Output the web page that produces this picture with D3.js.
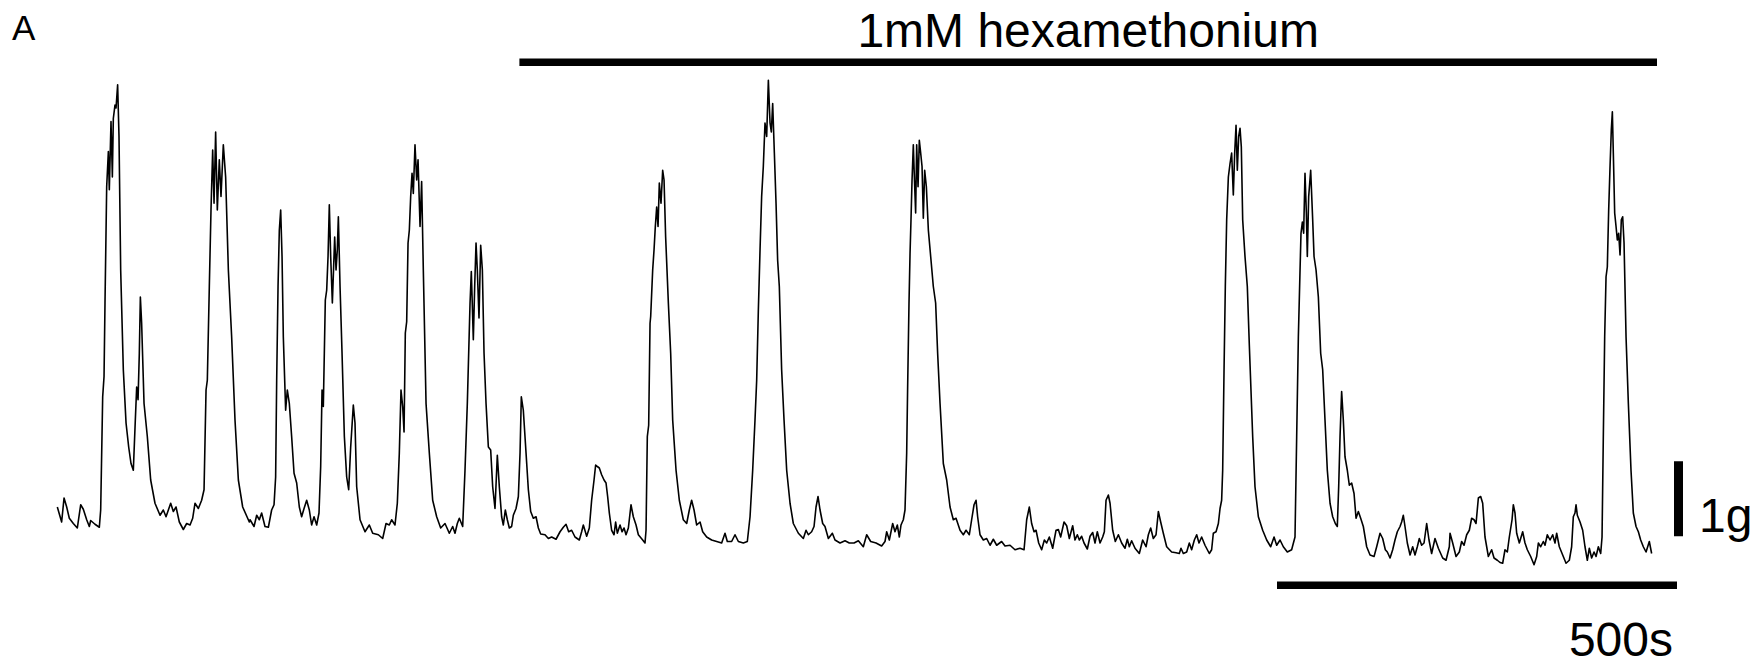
<!DOCTYPE html>
<html>
<head>
<meta charset="utf-8">
<script src="https://cdn.jsdelivr.net/npm/d3@7"></script>
<style>
  body { margin: 0; background: #fff; }
  text { font-family: "Liberation Sans", Arial, sans-serif; fill: #000; }
</style>
</head>
<body>
<script>
// isometric tension trace, pairs of [time (s), force (g)]
// control period, before the drug goes on
const controlTrace = [
  [0.4,0.44],[5.8,0.24],[8.8,0.56],[12.1,0.44],[15.4,0.29],[20.4,0.22],[25.4,0.16],[29.6,0.47],[32.9,0.41],[37.1,0.27],
  [40.4,0.18],[42.1,0.26],[47.5,0.21],[52.9,0.17],[54.6,0.40],[57.1,1.91],[58.8,2.18],[60.0,3.16],[62.1,4.71],[64.2,5.18],
  [65.4,4.67],[67.5,5.58],[69.2,4.84],[70.4,5.62],[72.5,5.80],[73.8,5.76],[75.8,6.07],[77.5,5.38],[79.6,3.60],[82.9,2.27],
  [86.3,1.56],[89.6,1.24],[92.5,1.02],[95.4,0.93],[97.9,1.60],[99.6,2.04],[101.3,1.87],[102.9,2.49],[104.2,3.24],[105.8,2.89],
  [108.8,1.82],[112.9,1.38],[117.1,0.80],[122.5,0.49],[128.8,0.33],[132.9,0.40],[136.3,0.31],[142.1,0.49],[145.4,0.38],[148.8,0.44],
  [152.9,0.24],[157.9,0.14],[162.1,0.22],[166.3,0.20],[169.6,0.29],[172.5,0.49],[176.7,0.42],[180.8,0.53],[183.8,0.67],[186.3,2.00],
  [187.9,2.13],[190.4,3.38],[192.5,4.40],[194.6,5.20],[196.3,4.49],[198.3,5.44],[200.4,4.40],[202.9,5.07],[205.0,4.58],[207.9,5.27],
  [210.8,4.84],[214.2,3.60],[218.3,2.71],[222.5,1.60],[226.7,0.80],[232.1,0.44],[240.4,0.24],
  [241.3,0.27],[246.3,0.18],[249.6,0.33],[252.9,0.27],[255.8,0.36],[260.0,0.18],[264.2,0.17],[268.3,0.40],[271.3,0.47],[273.3,0.84],
  [274.6,2.13],[276.3,3.38],[277.9,4.13],[279.6,4.40],[281.3,3.78],[282.9,2.71],[285.8,1.73],[287.9,2.00],[290.4,1.82],[293.3,1.38],
  [296.3,0.89],[299.6,0.76],[302.9,0.44],[305.8,0.31],[308.8,0.42],[312.1,0.53],[315.4,0.40],[318.3,0.20],[321.3,0.31],[324.6,0.20],
  [327.5,0.36],[329.6,0.98],[331.3,2.00],[332.9,1.78],[335.4,3.20],[337.1,3.33],[338.8,3.78],[340.4,4.47],[342.1,3.78],[344.2,3.16],
  [347.1,4.04],[348.8,3.60],[350.4,3.87],[351.7,4.31],[353.8,3.38],[356.3,2.49],[359.2,1.38],[362.1,0.84],[364.6,0.67],[367.1,1.24],
  [370.4,1.80],[372.5,1.56],[374.6,0.71],[378.8,0.27],[385.0,0.11],[390.4,0.20],[394.6,0.09],[401.7,0.07],[407.1,0.02],[411.3,0.22],
  [415.4,0.20],[418.3,0.27],[422.5,0.20],[425.4,0.49],[427.9,1.16],[430.0,2.00],[432.1,1.78],[433.8,1.44],[435.4,2.76],[437.1,2.91],
  [438.8,3.96],[440.4,4.13],[442.1,4.58],[443.8,4.89],[445.4,4.62],[447.5,5.27],[449.6,4.80],[451.3,5.07],[453.8,4.18],[455.8,4.78],
  [457.9,3.60],[461.3,1.82],[465.4,1.16],[469.6,0.53],[474.6,0.31],[479.6,0.16],[485.0,0.22],[490.4,0.09],
  [494.6,0.18],[497.5,0.09],[500.4,0.22],[502.9,0.29],[507.1,0.18],[510.0,0.93],[512.9,1.82],[514.6,2.49],[516.3,3.16],[517.9,3.58],
  [520.4,2.67],[522.1,3.38],[523.8,3.96],[525.4,3.60],[527.5,2.96],[529.6,3.93],[531.7,3.60],[533.8,2.49],[536.3,1.82],[539.2,1.24],
  [542.1,1.20],[544.6,0.71],[547.5,0.42],[550.4,1.13],[552.9,0.71],[555.8,0.31],[557.9,0.20],[560.4,0.40],[562.9,0.27],[565.4,0.16],
  [568.3,0.18],[570.4,0.33],[573.8,0.42],[576.7,0.58]
];

// in 1mM hexamethonium
const hexTrace = [
  [578.8,1.16],[580.4,1.91],[582.9,1.73],[586.3,1.16],[589.2,0.67],[592.1,0.38],[595.4,0.29],[598.8,0.31],[601.7,0.16],[604.6,0.08],
  [610.0,0.07],[614.2,0.02],[618.3,0.04],[623.8,0.01],[628.8,0.11],[632.9,0.17],[636.3,0.21],[639.6,0.11],[643.3,0.13],[647.5,0.04],
  [652.9,0.00],[655.8,0.11],[657.9,0.20],[662.1,0.05],[665.4,0.16],[668.3,0.53],[671.3,0.80],[673.3,1.00],[675.4,0.98],[677.9,0.96],
  [680.8,0.87],[683.8,0.80],[686.3,0.76],[688.3,0.58],[690.4,0.36],[693.3,0.13],[696.3,0.07],[698.3,0.24],[700.4,0.09],[703.8,0.20],
  [706.3,0.11],[708.8,0.16],[711.3,0.07],[714.2,0.16],[717.5,0.47],[720.4,0.31],[723.8,0.20],[726.7,0.07],[732.1,0.00],[735.0,-0.04],
  [736.3,0.13],[737.9,1.38],[739.6,1.53],[741.3,2.89],
  [742.1,2.98],[744.6,3.60],[746.3,3.87],[747.9,4.18],[749.6,4.44],[751.3,4.18],[752.9,4.76],[755.0,4.49],[757.1,4.93],[758.8,4.80],
  [760.8,4.04],[764.2,3.16],[767.1,2.49],[769.6,1.60],[773.8,0.93],[777.9,0.53],[782.9,0.27],[787.1,0.22],[790.4,0.40],[793.3,0.53],
  [796.3,0.40],[799.6,0.20],[803.8,0.24],[807.1,0.11],[812.1,0.04],[818.3,0.00],[824.6,-0.02],[830.8,-0.04],[835.0,0.09],[837.9,-0.02],
  [843.3,-0.02],[847.5,0.07],[851.7,-0.02],[857.9,-0.04],[862.9,-0.02],[866.3,0.31],[869.6,0.93],[872.5,1.60],[874.6,2.13],[876.7,3.07],
  [878.8,3.87],[880.8,4.58],[882.9,4.98],[885.0,5.56],[887.1,5.38],[889.2,6.13],[891.3,5.56],[892.9,5.44],[894.6,5.82],[896.7,5.16],
  [898.8,4.49],[900.8,3.73],[902.9,3.38],[905.8,2.27],[908.8,1.60],[912.1,0.93],[916.3,0.49],[920.4,0.22],[926.7,0.09],[932.9,0.02],
  [936.3,0.13],[939.2,0.07],[943.3,0.11],[946.3,0.18],[948.8,0.44],[951.3,0.58],[953.8,0.40],[957.1,0.22],[960.0,0.18],[964.2,0.02],
  [969.2,0.09],[972.5,0.00],[978.8,-0.04],[985.0,-0.01],[990.4,-0.04],
  [996.3,-0.04],[1001.7,-0.01],[1007.9,-0.09],[1012.1,0.07],[1017.1,-0.02],[1023.8,-0.04],[1030.8,-0.08],[1035.0,-0.02],[1037.1,0.11],[1040.4,0.00],
  [1044.6,0.22],[1047.5,0.11],[1050.4,0.20],[1052.9,0.04],[1055.0,0.20],[1057.9,0.27],[1060.0,0.40],[1062.1,1.16],[1063.3,2.04],[1065.0,3.16],
  [1066.3,3.82],[1067.5,4.27],[1068.8,4.80],[1070.4,5.27],[1071.7,4.84],[1073.3,4.36],[1074.6,5.27],[1076.3,4.71],[1077.9,5.33],[1079.6,5.16],
  [1081.3,4.98],[1082.9,4.29],[1084.6,4.93],[1086.7,4.71],[1089.2,4.13],[1092.1,3.78],[1095.4,3.38],[1098.3,3.16],[1100.8,2.49],[1103.8,1.82],
  [1107.9,1.02],[1112.1,0.80],[1116.3,0.44],[1120.4,0.27],[1123.8,0.29],[1128.8,0.13],[1132.9,0.07],[1136.3,0.13],[1140.4,0.07],[1143.3,0.27],
  [1146.3,0.47],[1148.8,0.53],[1150.8,0.31],[1153.8,0.07],[1157.9,0.00],[1162.1,0.02],[1166.3,-0.07],[1170.4,0.01],[1174.6,-0.07],[1180.8,-0.02],
  [1185.0,-0.08],[1191.3,-0.07],[1197.5,-0.13],[1203.8,-0.11],[1208.8,-0.13],[1212.1,0.27],[1215.4,0.44],[1218.3,0.22],[1221.3,0.11],[1223.8,0.13],
  [1227.1,-0.04],[1230.8,-0.13],[1234.2,0.00],[1237.1,-0.04],[1240.4,0.04],
  [1244.6,-0.11],[1248.8,0.13],[1251.7,0.14],[1254.6,0.04],[1258.8,0.24],[1262.1,0.19],[1265.4,0.02],[1269.6,0.19],[1272.5,0.00],[1275.4,0.07],
  [1277.9,0.00],[1280.8,0.05],[1283.8,-0.04],[1287.9,-0.12],[1291.3,0.05],[1294.6,0.10],[1297.5,-0.04],[1300.4,0.11],[1303.8,-0.04],[1307.1,0.04],
  [1309.2,0.11],[1311.3,0.53],[1314.2,0.60],[1316.3,0.49],[1319.6,0.13],[1322.9,-0.02],[1326.7,0.07],[1330.8,-0.04],[1335.0,-0.11],[1337.9,0.01],
  [1340.4,-0.09],[1343.3,-0.01],[1347.5,-0.11],[1352.9,-0.18],[1357.1,0.00],[1361.3,-0.09],[1364.2,0.07],[1367.1,0.16],[1370.4,0.02],[1373.8,0.07],
  [1376.7,0.38],[1379.6,0.24],[1382.9,0.09],[1387.1,-0.09],[1393.3,-0.16],[1398.8,-0.17],[1402.9,-0.18],[1405.0,-0.11],[1407.9,-0.18],[1412.1,-0.16],
  [1415.4,-0.04],[1418.3,-0.13],[1421.7,0.00],[1424.6,0.07],[1427.5,-0.04],[1430.8,0.04],[1435.0,-0.07],[1440.4,-0.18],[1443.3,-0.13],[1445.4,0.09],
  [1448.8,0.11],[1451.7,0.22],[1453.8,0.42],[1455.8,0.53],[1457.1,0.93],[1458.8,2.27],[1460.4,3.38],[1462.1,4.27],[1464.2,4.84],[1466.3,5.02],
  [1468.3,5.16],[1470.4,4.60],[1472.1,5.16],[1473.8,5.53],[1475.4,4.93],[1477.1,5.38],[1478.8,5.49],[1480.4,5.24],[1482.1,4.27],[1485.0,3.78],
  [1487.9,3.38],[1490.4,2.60],
  [1494.6,1.38],[1497.5,0.71],[1501.7,0.31],[1507.1,0.13],[1512.1,0.00],[1517.1,-0.09],[1521.3,0.04],[1524.6,-0.07],[1528.8,0.00],[1532.9,-0.09],
  [1537.9,-0.16],[1543.3,-0.13],[1547.5,0.04],[1549.6,1.38],[1551.7,2.71],[1553.8,3.60],[1555.0,4.09],[1556.7,4.24],[1558.3,4.09],[1560.0,4.89],
  [1561.7,4.36],[1562.9,3.78],[1564.6,4.58],[1567.1,4.93],[1569.6,4.27],[1571.3,3.78],[1573.8,3.60],[1576.7,3.24],[1579.6,2.49],[1582.1,2.27],
  [1585.0,1.60],[1587.9,0.93],[1591.3,0.49],[1594.6,0.31],[1597.9,0.22],[1600.4,0.18],[1602.1,0.71],[1603.8,1.38],[1605.8,1.98],[1607.9,1.60],
  [1610.0,1.11],[1612.9,0.93],[1615.4,0.73],[1618.3,0.76],[1621.3,0.62],[1623.8,0.29],[1626.7,0.38],[1629.6,0.29],[1632.9,0.18],[1637.1,-0.09],
  [1641.3,-0.20],[1646.3,-0.22],[1649.6,-0.09],[1653.8,0.09],[1657.1,0.02],[1660.4,-0.13],[1662.9,-0.16],[1666.3,-0.24],[1669.6,-0.13],[1672.5,0.00],
  [1675.4,0.11],[1678.8,0.18],[1680.8,0.24],[1682.9,0.33],[1685.0,0.18],[1687.9,-0.04],[1691.3,-0.20],[1694.6,-0.09],[1697.5,-0.20],[1700.4,-0.09],
  [1702.9,0.02],[1705.8,-0.07],[1708.8,-0.04],[1712.1,0.22],[1715.0,0.00],[1718.3,-0.18],[1722.5,0.02],[1726.7,-0.11],[1732.1,-0.24],[1736.3,-0.27],
  [1740.4,-0.09],
  [1741.3,0.09],[1744.6,-0.04],[1748.8,-0.22],[1752.9,-0.16],[1755.8,-0.02],[1758.8,-0.07],[1762.1,0.07],[1765.4,0.13],[1768.3,0.29],[1771.3,0.27],
  [1773.8,0.22],[1776.7,0.56],[1779.6,0.58],[1782.1,0.49],[1785.0,0.04],[1789.2,-0.22],[1793.3,-0.13],[1796.3,-0.24],[1800.4,-0.27],[1803.8,-0.30],
  [1807.1,-0.31],[1810.0,-0.13],[1812.9,-0.16],[1815.4,0.04],[1818.8,0.27],[1820.4,0.47],[1822.5,0.36],[1824.6,0.09],[1827.9,-0.04],[1832.1,0.11],
  [1835.0,-0.04],[1837.9,-0.13],[1842.1,-0.22],[1846.3,-0.33],[1849.6,-0.22],[1851.7,-0.04],[1854.6,-0.09],[1857.9,-0.02],[1860.0,-0.07],[1862.9,0.07],
  [1866.3,0.00],[1869.6,0.07],[1872.5,-0.04],[1874.6,0.09],[1877.9,-0.09],[1882.1,-0.20],[1886.3,-0.31],[1890.4,-0.27],[1893.3,-0.09],[1895.4,0.31],
  [1897.5,0.36],[1898.8,0.47],[1900.4,0.33],[1903.8,0.24],[1907.1,0.13],[1910.0,-0.09],[1912.9,-0.27],[1915.4,-0.11],[1918.3,-0.24],[1921.3,-0.16],
  [1923.8,-0.22],[1926.7,-0.09],[1929.6,-0.18],[1931.3,0.04],[1932.9,1.38],[1934.6,2.71],[1936.3,3.51],[1937.9,3.64],[1939.6,4.40],[1941.3,4.98],
  [1942.9,5.47],[1944.2,5.71],[1945.4,5.16],[1947.1,4.36],[1948.8,4.18],[1950.4,4.00],[1952.1,4.09],[1953.8,3.80],[1955.4,4.27],[1957.1,4.31],
  [1958.8,3.96],[1961.3,2.71],[1964.2,1.82],[1967.5,0.93],[1970.4,0.36],[1973.8,0.18],[1976.7,0.11],[1979.6,0.00],[1982.9,-0.09],[1986.3,-0.16],
  [1990.4,-0.02],[1993.3,-0.18]
];

const panelLabel = "A";
const drugLabel = "1mM hexamethonium";
const drugPeriod = [578, 2000];   // s
const timeBar = [1525, 2025];     // 500 s
const timeBarLabel = "500s";
const forceBar = [0.05, 1.05];    // 1 g
const forceBarLabel = "1g";

const width = 1757, height = 663;

const svg = d3.select("body").append("svg")
    .attr("width", width)
    .attr("height", height);

const x = d3.scaleLinear()
    .domain([0, 2000])
    .range([57, 1657]);

const y = d3.scaleLinear()
    .domain([0, 1])
    .range([540, 465]);

const trace = controlTrace.concat(hexTrace);

const line = d3.line()
    .x(d => x(d[0]))
    .y(d => y(d[1]));

svg.append("path")
    .datum(trace)
    .attr("fill", "none")
    .attr("stroke", "#000")
    .attr("stroke-width", 1.6)
    .attr("stroke-linejoin", "round")
    .attr("d", line);

// drug application bar
svg.append("rect")
    .attr("x", x(drugPeriod[0]))
    .attr("y", 58.5)
    .attr("width", x(drugPeriod[1]) - x(drugPeriod[0]))
    .attr("height", 7.5)
    .attr("fill", "#000");

svg.append("text")
    .attr("x", (x(drugPeriod[0]) + x(drugPeriod[1])) / 2)
    .attr("y", 46.5)
    .attr("text-anchor", "middle")
    .style("font-size", "48px")
    .text(drugLabel);

// scale bars
svg.append("rect")
    .attr("x", 1674)
    .attr("y", y(forceBar[1]))
    .attr("width", 9)
    .attr("height", y(forceBar[0]) - y(forceBar[1]))
    .attr("fill", "#000");

svg.append("text")
    .attr("x", 1699)
    .attr("y", 532)
    .style("font-size", "48px")
    .text(forceBarLabel);

svg.append("rect")
    .attr("x", x(timeBar[0]))
    .attr("y", 581.5)
    .attr("width", x(timeBar[1]) - x(timeBar[0]))
    .attr("height", 7.5)
    .attr("fill", "#000");

svg.append("text")
    .attr("x", x(timeBar[1]) - 4)
    .attr("y", 656)
    .attr("text-anchor", "end")
    .style("font-size", "48px")
    .text(timeBarLabel);

svg.append("text")
    .attr("x", 12)
    .attr("y", 40)
    .style("font-size", "35px")
    .text(panelLabel);
</script>
</body>
</html>
